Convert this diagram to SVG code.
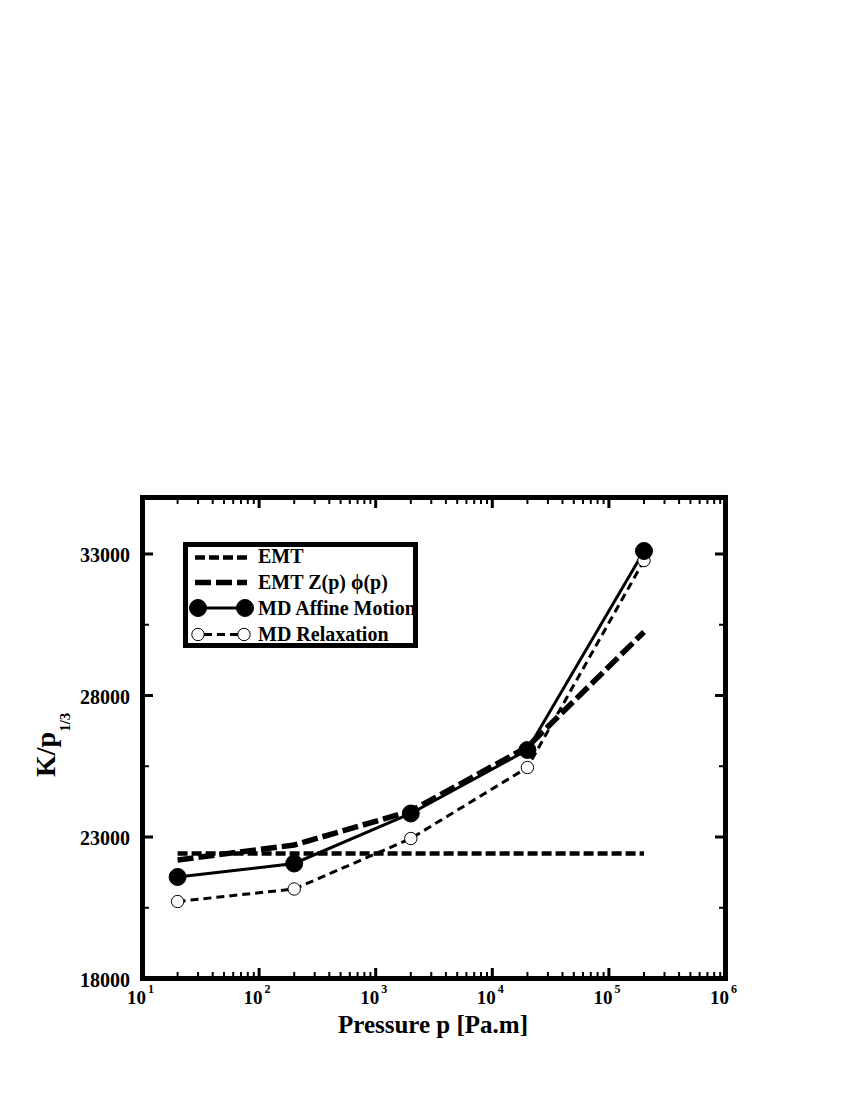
<svg xmlns="http://www.w3.org/2000/svg" width="850" height="1100" viewBox="0 0 850 1100">
<style>
text{font-family:"Liberation Serif","Times New Roman",serif;font-weight:bold;fill:#000}
.tk{font-size:20px}
.xt{font-size:19px}
.sup{font-size:12px}
.leg{font-size:20px}
.frame{fill:none;stroke:#000;stroke-width:5}
.tick{fill:none;stroke:#000}
.emt{fill:none;stroke:#000;stroke-width:4.5;stroke-dasharray:10 4}
.emtz{fill:none;stroke:#000;stroke-width:5.5;stroke-dasharray:16 5}
.aff{fill:none;stroke:#000;stroke-width:3}
.rel{fill:none;stroke:#000;stroke-width:3;stroke-dasharray:8 5}
.fc{fill:#000;stroke:#000;stroke-width:1}
.oc{fill:#fff;stroke:#000;stroke-width:1}
</style>
<rect width="850" height="1100" fill="#fff"/>
<g id="axes">
<rect class="frame" x="142.5" y="497.5" width="583" height="481"/>
<path class="tick" stroke-width="3" d="M259.1 976V968M375.7 976V968M492.3 976V968M608.9 976V968M259.1 500V508M375.7 500V508M492.3 500V508M608.9 500V508M145 554.1H153M145 695.6H153M145 837H153M723 554.1H715M723 695.6H715M723 837H715"/>
<path class="tick" stroke-width="2" d="M177.6 976v-4M198.1 976v-4M212.7 976v-4M224 976v-4M233.2 976v-4M241 976v-4M247.8 976v-4M253.8 976v-4M294.2 976v-4M314.7 976v-4M329.3 976v-4M340.6 976v-4M349.8 976v-4M357.6 976v-4M364.4 976v-4M370.4 976v-4M410.8 976v-4M431.3 976v-4M445.9 976v-4M457.2 976v-4M466.4 976v-4M474.2 976v-4M481 976v-4M487 976v-4M527.4 976v-4M547.9 976v-4M562.5 976v-4M573.8 976v-4M583 976v-4M590.8 976v-4M597.6 976v-4M603.6 976v-4M644 976v-4M664.5 976v-4M679.1 976v-4M690.4 976v-4M699.6 976v-4M707.4 976v-4M714.2 976v-4M720.2 976v-4M177.6 500v4M198.1 500v4M212.7 500v4M224 500v4M233.2 500v4M241 500v4M247.8 500v4M253.8 500v4M294.2 500v4M314.7 500v4M329.3 500v4M340.6 500v4M349.8 500v4M357.6 500v4M364.4 500v4M370.4 500v4M410.8 500v4M431.3 500v4M445.9 500v4M457.2 500v4M466.4 500v4M474.2 500v4M481 500v4M487 500v4M527.4 500v4M547.9 500v4M562.5 500v4M573.8 500v4M583 500v4M590.8 500v4M597.6 500v4M603.6 500v4M644 500v4M664.5 500v4M679.1 500v4M690.4 500v4M699.6 500v4M707.4 500v4M714.2 500v4M720.2 500v4M145 624.8h4M145 766.3h4M145 907.8h4M723 624.8h-4M723 766.3h-4M723 907.8h-4"/>
<g class="tk" text-anchor="end">
<text x="130" y="562">33000</text>
<text x="130" y="703.6">28000</text>
<text x="130" y="845">23000</text>
<text x="130" y="986.5">18000</text>
</g>
<g class="xt">
<text x="127" y="1004">10</text>
<text x="243.6" y="1004">10</text>
<text x="360.2" y="1004">10</text>
<text x="476.8" y="1004">10</text>
<text x="593.4" y="1004">10</text>
<text x="710" y="1004">10</text>
</g>
<g class="sup">
<text x="148" y="993">1</text>
<text x="264.6" y="993">2</text>
<text x="381.2" y="993">3</text>
<text x="497.8" y="993">4</text>
<text x="614.4" y="993">5</text>
<text x="731" y="993">6</text>
</g>
<text x="433" y="1033" font-size="25" text-anchor="middle">Pressure p [Pa.m]</text>
<text transform="translate(55,777) rotate(-90)" font-size="28">K/p<tspan dy="15" font-size="15">1/3</tspan></text>
</g>
<g id="connectors">
<path class="emt" d="M177.6 853.5H644"/>
<path class="emtz" d="M177.6 860L294.2 845L410.8 811L527.4 747L644 632"/>
<path class="rel" d="M177.6 901.5L294.2 889L410.8 838.5L527.4 767.5L644 560.5"/>
<path class="aff" d="M177.6 877L294.2 863.5L410.8 813.5L527.4 750L644 551"/>
</g>
<g id="relaxation-points">
<circle class="oc" cx="177.6" cy="901.5" r="6.2"/>
<circle class="oc" cx="294.2" cy="889" r="6.2"/>
<circle class="oc" cx="410.8" cy="838.5" r="6.2"/>
<circle class="oc" cx="527.4" cy="767.5" r="6.2"/>
<circle class="oc" cx="644" cy="560.5" r="6.2"/>
</g>
<g id="affine-points">
<circle class="fc" cx="177.6" cy="877" r="8.5"/>
<circle class="fc" cx="294.2" cy="863.5" r="8.5"/>
<circle class="fc" cx="410.8" cy="813.5" r="8.5"/>
<circle class="fc" cx="527.4" cy="750" r="8.5"/>
<circle class="fc" cx="644" cy="551" r="8.5"/>
</g>
<g id="legend">
<rect class="frame" x="185.5" y="544.5" width="230" height="101" fill="#fff"/>
<path class="emt" d="M195 557.5H247"/>
<path class="emtz" d="M195 582.5H247"/>
<path class="aff" d="M198 608H245"/>
<circle class="fc" cx="198" cy="608" r="8.5"/>
<circle class="fc" cx="245" cy="608" r="8.5"/>
<path class="rel" d="M204 634.5H239" stroke-dasharray="7 4"/>
<circle class="oc" cx="198" cy="634.5" r="6.2"/>
<circle class="oc" cx="244" cy="634.5" r="6.2"/>
<g class="leg">
<text x="258" y="563">EMT</text>
<text x="258" y="588.5">EMT Z(p) ϕ(p)</text>
<text x="258" y="614.5">MD Affine Motion</text>
<text x="258" y="640.5">MD Relaxation</text>
</g>
</g>
</svg>
